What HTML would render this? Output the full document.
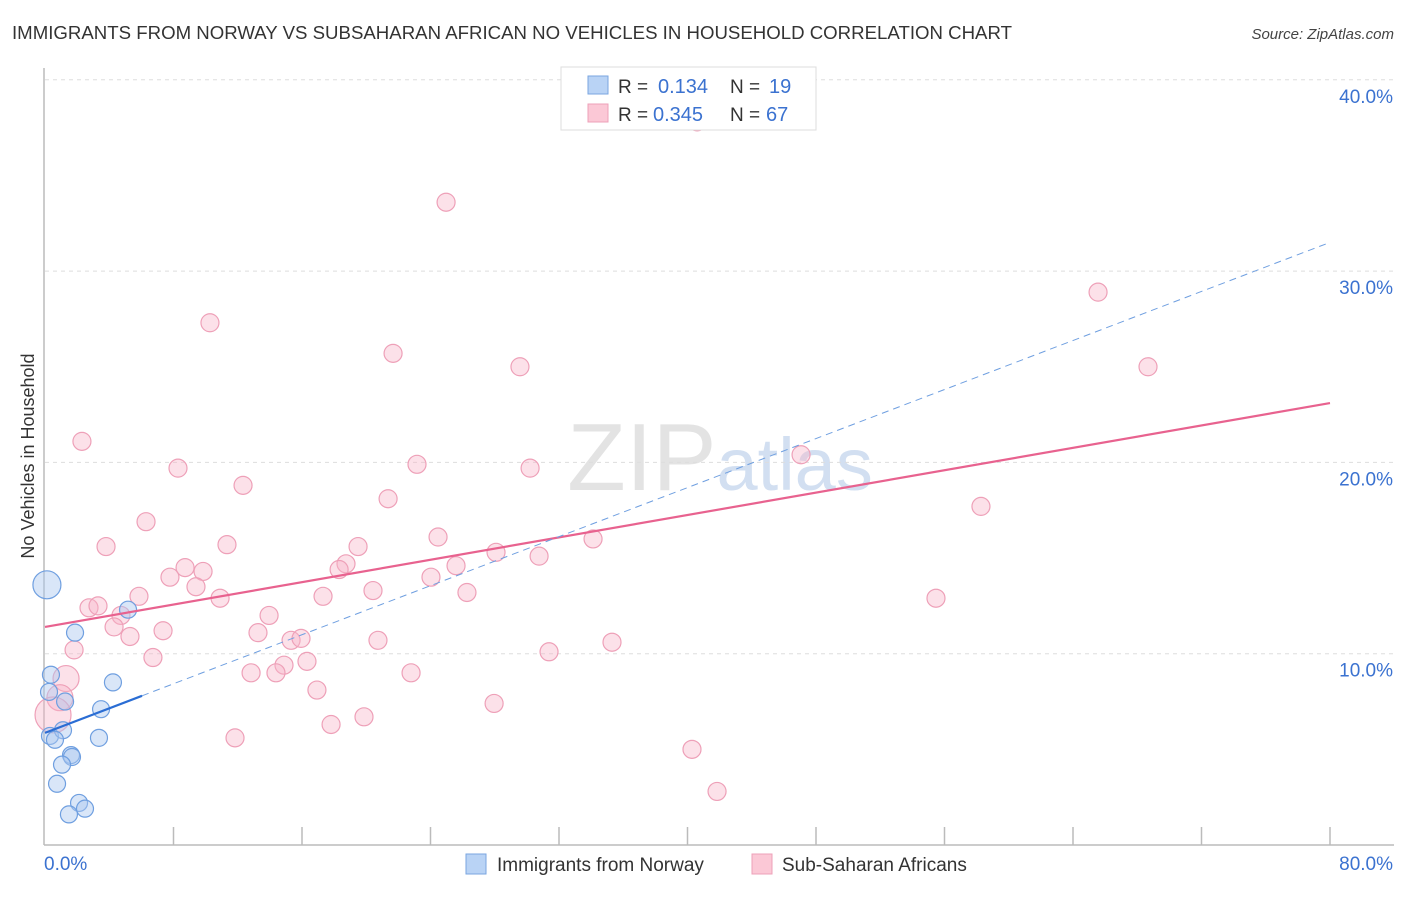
<!DOCTYPE html>
<html><head><meta charset="utf-8"><style>
body{margin:0;background:#fff;font-family:"Liberation Sans",sans-serif;}
svg text{font-family:"Liberation Sans",sans-serif;}
</style></head><body>
<svg id="chart" width="1406" height="892" xmlns="http://www.w3.org/2000/svg">
<text x="12" y="39" font-size="18" fill="#333" textLength="1000" lengthAdjust="spacingAndGlyphs">IMMIGRANTS FROM NORWAY VS SUBSAHARAN AFRICAN NO VEHICLES IN HOUSEHOLD CORRELATION CHART</text>
<text x="1394" y="39" font-size="15" fill="#444" text-anchor="end" font-style="italic">Source: ZipAtlas.com</text>
<text x="720" y="490" font-size="96" text-anchor="middle" fill="#ddd" font-family="Liberation Serif" opacity="0.8">ZIP<tspan fill="#c8d8ee" font-family="Liberation Sans" font-size="74">atlas</tspan></text>
<g id="grid"></g><g id="axes"></g><g id="pts"></g><g id="lines"></g>
<text transform="translate(34,456) rotate(-90)" font-size="18" fill="#333" text-anchor="middle">No Vehicles in Household</text>
<g>
<rect x="561" y="67" width="255" height="63" fill="#fff" stroke="#ddd"/>
<rect x="588" y="76" width="20" height="18" fill="#b9d3f5" stroke="#7aa6e0"/>
<rect x="588" y="104" width="20" height="18" fill="#fbc8d6" stroke="#eea0b8"/>
<text x="618" y="93" font-size="19" fill="#333">R =</text>
<text x="658" y="93" font-size="20" fill="#3b72d0">0.134</text>
<text x="730" y="93" font-size="19" fill="#333">N =</text>
<text x="769" y="93" font-size="20" fill="#3b72d0">19</text>
<text x="618" y="121" font-size="19" fill="#333">R =</text>
<text x="653" y="121" font-size="20" fill="#3b72d0">0.345</text>
<text x="730" y="121" font-size="19" fill="#333">N =</text>
<text x="766" y="121" font-size="20" fill="#3b72d0">67</text>
</g>
<g>
<rect x="466" y="854" width="20" height="20" fill="#b9d3f5" stroke="#7aa6e0"/>
<text x="497" y="871" font-size="19" fill="#333">Immigrants from Norway</text>
<rect x="752" y="854" width="20" height="20" fill="#fbc8d6" stroke="#eea0b8"/>
<text x="782" y="871" font-size="19" fill="#333">Sub-Saharan Africans</text>
</g>
</svg>
<script>
const blueX=[0.12,1.87,0.37,4.23,0.25,1.25,3.49,0.31,1.12,0.62,3.36,1.62,1.68,1.06,0.75,2.12,2.49,1.49,5.17];
const blueY=[13.6,11.1,8.9,8.5,8.0,7.5,7.1,5.7,6.0,5.5,5.6,4.7,4.6,4.2,3.2,2.2,1.9,1.6,12.3];
const pinkX=[40.6,24.97,10.27,65.56,21.67,29.57,68.67,2.30,8.28,23.16,30.2,12.33,47.07,21.36,58.27,6.29,3.80,11.33,19.49,24.47,34.12,28.08,30.76,18.74,18.31,25.59,8.72,9.84,7.78,24.03,9.40,20.42,5.85,10.90,17.31,26.27,55.47,2.74,3.30,4.73,13.95,4.30,7.35,5.29,13.26,15.32,15.94,20.73,35.30,1.81,31.38,6.72,14.88,16.31,12.83,14.38,22.79,1.31,16.93,0.93,27.96,19.86,17.81,0.50,11.83,40.28,41.84];
const pinkY=[37.8,33.6,27.3,28.9,25.7,25.0,25.0,21.1,19.7,19.9,19.7,18.8,20.4,18.1,17.7,16.9,15.6,15.7,15.6,16.1,16.0,15.3,15.1,14.7,14.4,14.6,14.5,14.3,14.0,14.0,13.5,13.3,13.0,12.9,13.0,13.2,12.9,12.4,12.5,12.0,12.0,11.4,11.2,10.9,11.1,10.7,10.8,10.7,10.6,10.2,10.1,9.8,9.4,9.6,9.0,9.0,9.0,8.7,8.1,7.7,7.4,6.7,6.3,6.8,5.6,5.0,2.8];
const yTicks=[10,20,30,40];
const yTickLabels=["10.0%","20.0%","30.0%","40.0%"];
const xTickVals=[0,8,16,24,32,40,48,56,64,72,80];
const pinkTrend=[11.4,23.1];
const blueTrend=[5.86,7.8];
const blueDash=[7.8,31.5];
const blueEnd=6.04;
const NS="http://www.w3.org/2000/svg";
const X=v=>45+v/80*1285, Y=v=>845-v*19.13;
function mk(p,t,a){const e=document.createElementNS(NS,t);for(const k in a)e.setAttribute(k,a[k]);document.getElementById(p).appendChild(e);return e;}
yTicks.forEach((t,i)=>{
 let l=mk('grid','line',{x1:45,x2:1394,y1:Y(t),y2:Y(t),stroke:'#ddd','stroke-dasharray':'4,4'});
 
 
 let tx=mk('grid','text',{x:1393,y:Y(t)+23,'font-size':19,fill:'#3b72d0','text-anchor':'end'});tx.textContent=yTickLabels[i];
 
 
});
mk('axes','line',{x1:44,x2:44,y1:68,y2:845,stroke:'#bbb','stroke-width':1.5});
mk('axes','line',{x1:44,x2:1394,y1:845,y2:845,stroke:'#bbb','stroke-width':1.5});
xTickVals.forEach(v=>{if(v>0){let t=mk('axes','line',{x1:X(v),x2:X(v),y1:827,y2:845,stroke:'#bbb','stroke-width':1.5});
 
 }});
let xl=mk('axes','text',{x:44,y:870,'font-size':19,fill:'#3b72d0'});xl.textContent='0.0%';


let xr=mk('axes','text',{x:1393,y:870,'font-size':19,fill:'#3b72d0','text-anchor':'end'});xr.textContent='80.0%';


pinkX.forEach((v,i)=>{let r=(v<1.5&&pinkY[i]<9)?(v<0.6?18:13):9;let c=mk('pts','circle',{cx:X(v),cy:Y(pinkY[i]),r:r,fill:'rgba(248,180,200,0.4)',stroke:'#eea0b8','stroke-width':1.2});
 
 });
blueX.forEach((v,i)=>{let r=i==0?14:8.5;let c=mk('pts','circle',{cx:X(v),cy:Y(blueY[i]),r:r,fill:'rgba(170,200,240,0.45)',stroke:'#6f9fe0','stroke-width':1.2});
 
 });
let pl=mk('lines','line',{x1:X(0),y1:Y(pinkTrend[0]),x2:X(80),y2:Y(pinkTrend[1]),stroke:'#e8628f','stroke-width':2.2});


let bd=mk('lines','line',{x1:X(blueEnd),y1:Y(blueDash[0]),x2:X(80),y2:Y(blueDash[1]),stroke:'#6f9fe0','stroke-width':1,'stroke-dasharray':'7,5'});


let bl=mk('lines','line',{x1:X(0),y1:Y(blueTrend[0]),x2:X(blueEnd),y2:Y(blueTrend[1]),stroke:'#2a6dd4','stroke-width':2.2});


</script>
</body></html>
